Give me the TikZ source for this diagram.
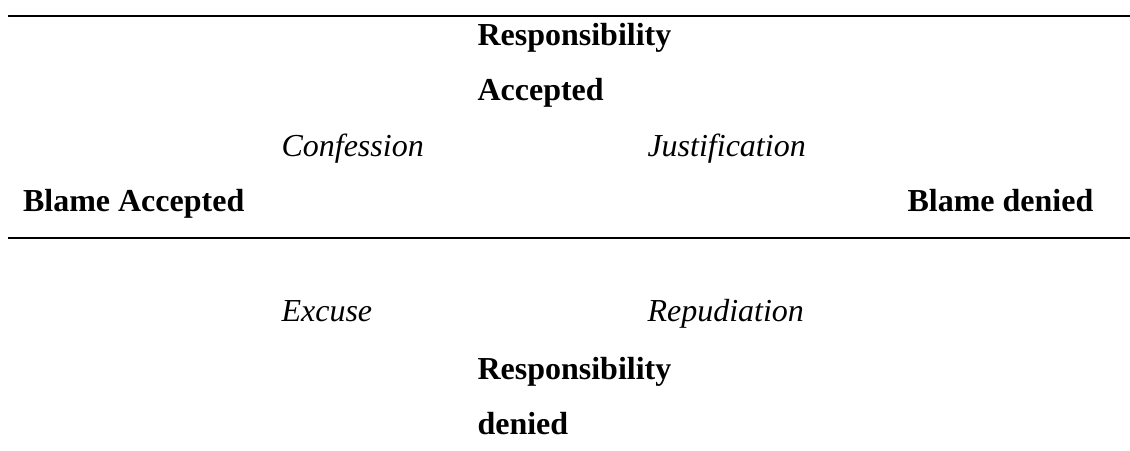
\documentclass[tikz,border=0pt]{standalone}
\usepackage{fontspec}
\setmainfont{Liberation Serif}
\usetikzlibrary{positioning}

\tikzset{
	lbl/.style={anchor=base west, inner sep=0pt, font=\fontsize{12}{14}\selectfont},
	heading/.style={lbl, font=\fontsize{12}{14}\selectfont\bfseries},
	kind/.style={lbl, font=\fontsize{12}{14}\selectfont\itshape},
	rule/.style={line width=0.75pt}
}

\begin{document}
\begin{tikzpicture}[x=0.375pt, y=-0.375pt]
			%%%%% START %%%%%
			\useasboundingbox (0, 0) rectangle (1130, 451);
			
			\draw[rule] (8, 15.7) -- (1130, 15.7);
			\draw[rule] (8, 238.5) -- (1130, 238.5);
			
			\node[heading] (respacc1) at (477, 45.7) {Responsibility};
			\node[heading] (respacc2) at (477, 100.7) {Accepted};
			
			\node[kind] (confession) at (281, 156.5) {Confession};
			\node[kind] (justification) at (647, 156.5) {Justification};
			
			\node[heading] (blameacc) at (22.5, 211.7) {Blame Accepted};
			\node[heading] (blameden) at (907, 211.7) {Blame denied};
			
			\node[kind] (excuse) at (281, 321.5) {Excuse};
			\node[kind] (repudiation) at (647, 321.5) {Repudiation};
			
			\node[heading] (respden1) at (477, 380) {Responsibility};
			\node[heading] (respden2) at (477, 435) {denied};
			%%%%% END %%%%%
\end{tikzpicture}
\end{document}
